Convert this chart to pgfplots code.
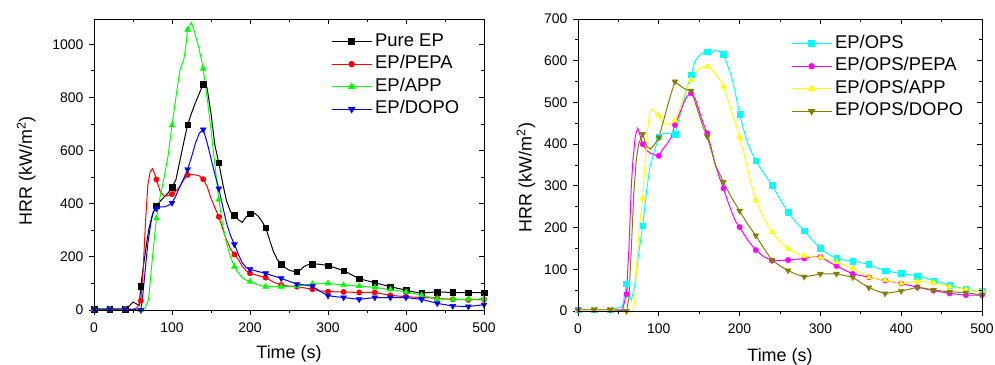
\documentclass[border=0pt]{standalone}
\usepackage{fontspec}
\setmainfont{Liberation Sans}
\usepackage{pgfplots}
\usepackage{pgfplotstable}
\pgfplotsset{compat=1.18}

\definecolor{cOPS}{RGB}{0,255,255}
\definecolor{cOPSPEPA}{RGB}{255,0,255}
\definecolor{cOPSAPP}{RGB}{255,255,0}
\definecolor{cOPSDOPO}{RGB}{128,128,0}
\definecolor{cAPP}{RGB}{0,255,0}

% ---------- left panel ----------
\pgfplotstableread{
t y
0 3
20 3
40 3
45 15
50 30
55 22
58 18
60 90
65 200
70 300
75 360
80 392
85 410
90 425
95 440
100 461
105 490
110 560
115 630
120 697
125 740
130 780
135 815
140 850
142 857
145 835
150 740
155 620
160 554
165 476
170 410
175 370
180 357
185 340
190 330
195 350
200 362
205 365
210 355
215 335
220 310
225 265
230 220
235 190
240 172
245 160
250 150
255 146
260 144
265 152
270 165
275 171
280 173
290 172
300 167
310 158
320 148
330 133
340 118
350 110
360 103
370 95
380 88
390 81
400 75
410 68
420 64
430 66
440 68
460 66
480 65
500 65
}\tEP

\pgfplotstableread{
t y
0 3
20 3
40 3
50 3
55 8
60 35
63 150
66 330
69 470
72 520
75 532
78 510
80 491
85 445
90 428
95 430
100 436
105 448
110 464
115 490
120 508
125 510
130 508
135 505
140 492
145 465
150 420
155 385
160 351
165 305
170 263
175 230
180 209
185 190
190 165
195 148
200 138
210 130
220 122
230 105
240 94
250 90
260 88
270 83
280 78
290 72
300 69
320 68
340 66
360 66
380 55
400 50
420 47
440 44
460 40
480 38
500 40
}\tPEPA

\pgfplotstableread{
t y
0 3
20 3
40 3
60 0
65 5
70 40
75 200
80 345
85 430
90 500
95 580
100 695
105 800
110 902
115 940
118 1000
120 1055
125 1082
130 1035
135 980
140 908
145 800
150 680
155 545
160 416
165 320
170 251
175 200
180 163
185 140
190 122
195 112
200 107
210 95
220 88
240 88
260 90
280 98
300 100
320 94
340 90
360 85
380 77
400 68
420 56
440 42
460 40
480 40
500 42
}\tAPP

\pgfplotstableread{
t y
0 3
20 3
40 3
60 0
62 40
65 130
69 250
73 330
76 370
80 382
85 388
90 388
95 393
100 403
105 430
110 464
115 495
120 529
125 575
130 627
135 665
140 679
145 630
150 570
155 510
160 457
165 390
170 326
175 280
180 247
185 210
190 178
195 160
200 153
210 145
220 138
230 128
240 119
250 108
260 98
270 94
280 90
290 70
300 54
310 50
320 47
340 40
360 47
380 47
400 47
420 40
440 25
460 15
480 13
500 20
}\tDOPO

% ---------- right panel ----------
\pgfplotstableread{
t y
0 3
20 3
40 3
55 10
60 65
63 40
66 26
70 60
74 122
80 204
85 290
89 346
95 386
100 418
105 426
110 426
115 424
120 424
125 460
128 482
135 535
140 566
145 600
150 612
155 620
160 622
165 617
169 626
175 622
180 615
185 590
190 562
195 520
200 472
205 435
210 402
215 380
220 360
230 330
240 302
250 268
260 237
270 212
280 192
290 170
300 150
310 136
320 126
330 122
340 120
350 116
360 112
370 103
380 97
390 93
400 90
410 87
420 84
430 79
440 73
450 68
460 62
470 57
480 52
490 49
500 47
}\tOPS

\pgfplotstableread{
t y
0 3
20 3
40 3
55 3
60 40
63 150
66 300
68 362
71 420
74 438
77 420
80 400
85 385
90 378
95 374
100 372
105 388
110 400
115 415
120 446
125 470
130 495
135 515
140 522
145 510
150 480
155 450
160 426
165 390
170 350
175 320
180 294
185 265
190 238
195 215
200 201
210 170
220 146
230 130
240 121
250 121
260 122
270 124
280 126
290 131
300 130
310 118
320 108
330 98
340 89
350 85
360 81
380 73
400 66
420 57
440 49
460 42
480 38
500 38
}\tOPSPEPA

\pgfplotstableread{
t y
0 3
20 3
40 3
60 0
68 0
70 20
73 120
76 200
80 270
83 350
86 430
89 480
92 484
95 478
100 468
105 452
109 446
115 450
120 456
125 480
130 510
135 535
140 554
145 570
150 582
155 585
160 586
165 580
170 570
175 555
180 538
185 510
190 478
195 450
200 416
205 380
210 340
215 300
220 265
230 222
240 189
250 165
260 149
270 138
280 132
290 130
300 129
310 123
320 117
330 110
340 102
350 91
360 81
370 77
380 74
390 70
400 66
410 69
420 71
430 70
440 68
450 63
460 58
470 55
480 52
490 50
500 49
}\tOPSAPP

\pgfplotstableread{
t y
0 3
20 3
40 3
60 0
63 30
66 150
69 280
72 360
75 400
80 424
85 395
90 388
95 400
100 416
105 450
110 486
115 520
120 550
125 542
130 535
135 530
140 528
145 500
150 470
155 440
160 418
165 385
170 350
175 330
180 309
190 272
200 240
210 208
220 181
230 150
240 122
250 108
260 97
270 88
280 82
290 85
300 89
320 89
340 81
350 68
360 56
370 48
380 42
390 45
400 48
410 52
420 57
430 54
440 50
460 46
480 44
500 38
}\tOPSDOPO

\pgfplotsset{
  hrr/.style n args={4}{color=#1, line width=1pt, no marks,
    legend image code/.code={\draw[#1,line width=1pt,mark=#2,mark size=#3,mark repeat=2,mark phase=2,mark options={solid,fill=#1,#4}] plot coordinates {(0bp,0bp)(20bp,0bp)(40bp,0bp)};}},
  hrrm/.style n args={4}{color=#1, only marks, mark=#2, mark size=#3,
    mark options={solid,fill=#1,#4}, forget plot,
    x filter/.expression={abs(mod(x,20))<0.01 ? x : nan}},
  common/.style={scale only axis, xmin=0, xmax=500,
    xtick={0,100,...,500}, minor x tick num=1, minor y tick num=1,
    axis line style={line width=0.8pt},
    tick style={black, line width=0.8pt},
    major tick length=5bp, minor tick length=3bp},
  mainax/.style={common, tick align=outside, xtick pos=left, ytick pos=left,
    tick label style={font=\fontsize{14}{14}\selectfont},
    xticklabel style={yshift=-4bp},
    yticklabel style={xshift=-2bp},
    label style={font=\fontsize{18}{18}\selectfont},
    /pgf/number format/assume math mode=true,
    /pgf/number format/1000 sep={},
    legend cell align=left,
    legend style={draw=none, fill=none, inner sep=0pt, row sep=5.5bp,
      font=\fontsize{18.5}{18.5}\selectfont,
      nodes={inner ysep=0pt, inner xsep=3bp, text height=13bp, text depth=4bp}},
    xlabel={Time (s)}, ylabel={HRR (kW/m\textsuperscript{2})}},
  overax/.style={common, tick align=inside, xtick pos=right, ytick pos=right,
    xticklabels={}, yticklabels={}},
}

\begin{document}
\begin{tikzpicture}
\useasboundingbox (0,0) rectangle (995bp,365bp);

% ===== left =====
\begin{axis}[mainax, at={(94bp,55bp)}, anchor=south west,
  width=390bp, height=291bp, ymin=0, ymax=1095, ytick={0,200,...,1000},
  xlabel style={at={(axis description cs:0.5,-0.151)}, anchor=center},
  ylabel style={at={(axis description cs:-0.174,0.478)}, anchor=center},
  legend style={at={(axis description cs:0.6077,0.952)}, anchor=north west}]
\addplot[hrr={black}{square*}{2.8pt}{}] table {\tEP};
\addlegendentry{Pure EP}
\addplot[hrrm={black}{square*}{2.8pt}{}] table {\tEP};
\addplot[hrr={red}{*}{2.7pt}{}] table {\tPEPA};
\addlegendentry{EP/PEPA}
\addplot[hrrm={red}{*}{2.7pt}{}] table {\tPEPA};
\addplot[hrr={cAPP}{triangle*}{3.4pt}{}] table {\tAPP};
\addlegendentry{EP/APP}
\addplot[hrrm={cAPP}{triangle*}{3.4pt}{}] table {\tAPP};
\addplot[hrr={blue}{triangle*}{3.4pt}{rotate=180}] table {\tDOPO};
\addlegendentry{EP/DOPO}
\addplot[hrrm={blue}{triangle*}{3.4pt}{rotate=180}] table {\tDOPO};
\end{axis}
\begin{axis}[overax, at={(94bp,55bp)}, anchor=south west,
  width=390bp, height=291bp, ymin=0, ymax=1095, ytick={0,200,...,1000}]
\end{axis}

% ===== right =====
\begin{axis}[mainax, at={(578bp,54bp)}, anchor=south west,
  width=404bp, height=292bp, ymin=0, ymax=700, ytick={0,100,...,700},
  xlabel style={at={(axis description cs:0.5,-0.156)}, anchor=center},
  ylabel style={at={(axis description cs:-0.129,0.457)}, anchor=center},
  legend style={at={(axis description cs:0.527,0.945)}, anchor=north west}]
\addplot[hrr={cOPS}{square*}{2.8pt}{}] table {\tOPS};
\addlegendentry{EP/OPS}
\addplot[hrrm={cOPS}{square*}{2.8pt}{}] table {\tOPS};
\addplot[hrr={cOPSPEPA}{*}{2.7pt}{}] table {\tOPSPEPA};
\addlegendentry{EP/OPS/PEPA}
\addplot[hrrm={cOPSPEPA}{*}{2.7pt}{}] table {\tOPSPEPA};
\addplot[hrr={cOPSAPP}{triangle*}{3.4pt}{}] table {\tOPSAPP};
\addlegendentry{EP/OPS/APP}
\addplot[hrrm={cOPSAPP}{triangle*}{3.4pt}{}] table {\tOPSAPP};
\addplot[hrr={cOPSDOPO}{triangle*}{3.4pt}{rotate=180}] table {\tOPSDOPO};
\addlegendentry{EP/OPS/DOPO}
\addplot[hrrm={cOPSDOPO}{triangle*}{3.4pt}{rotate=180}] table {\tOPSDOPO};
\end{axis}
\begin{axis}[overax, at={(578bp,54bp)}, anchor=south west,
  width=404bp, height=292bp, ymin=0, ymax=700, ytick={0,100,...,700}]
\end{axis}
\end{tikzpicture}
\end{document}
